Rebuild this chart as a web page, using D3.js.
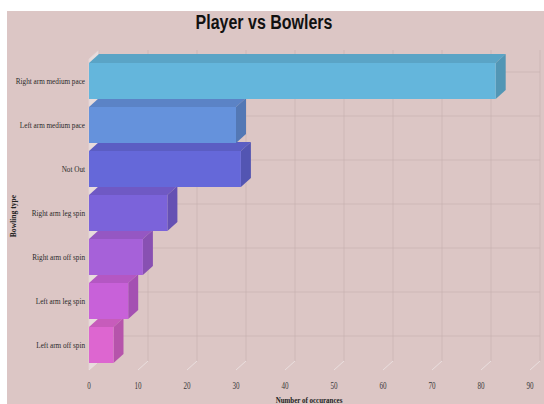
<!DOCTYPE html>
<html><head><meta charset="utf-8">
<script src="https://cdn.jsdelivr.net/npm/d3@7"></script>
<style>
html,body{margin:0;padding:0;background:#fff;}
svg{display:block;}
</style></head>
<body>
<svg id="c" width="544" height="404"></svg>
<script>
const categories = ["Right arm medium pace","Left arm medium pace","Not Out","Right arm leg spin","Right arm off spin","Left arm leg spin","Left arm off spin"];
const values = [83,30,31,16,11,8,5];
const xTicks = [0,10,20,30,40,50,60,70,80,90];
const frontColors = ["#64b6dc","#6592dc","#6568d9","#7b63da","#a661d9","#c861d9","#dd66d0"];
const title = "Player vs Bowlers";
const xTitle = "Number of occurances";
const yTitle = "Bowling type";

const SERIF = "'Liberation Serif', 'Times New Roman', 'DejaVu Serif', serif";
const svg = d3.select("#c");
const DX = 10, DY = 9;
svg.append("rect").attr("x",7).attr("y",11).attr("width",537).attr("height",393).attr("fill","#dcc6c5");

const x = d3.scaleLinear().domain([0,90]).range([89,530]);
const y = d3.scaleBand().domain(categories).range([59,367]).paddingInner(8/44).paddingOuter(4/44);
const yTop = 59, yBot = 370;

// left wall
svg.append("polygon")
  .attr("points",[[x(0),yTop],[x(0)+DX,yTop-DY],[x(0)+DX,yBot-DY],[x(0),yBot]].map(p=>p.join(",")).join(" "))
  .attr("fill","#e8dcdc").attr("stroke","#e4d6d6").attr("stroke-width",0.8);

// back vertical grid
svg.append("g").selectAll("line").data(xTicks).join("line")
  .attr("x1",d=>x(d)+DX).attr("x2",d=>x(d)+DX)
  .attr("y1",yTop-DY).attr("y2",yBot-DY)
  .attr("stroke","#c9b3b3").attr("stroke-width",0.7);
// back horizontal grid at category centers
svg.append("g").selectAll("line").data(categories).join("line")
  .attr("x1",x(0)+DX).attr("x2",x(90)+DX)
  .attr("y1",d=>y(d)+y.bandwidth()/2-DY).attr("y2",d=>y(d)+y.bandwidth()/2-DY)
  .attr("stroke","#c9b3b3").attr("stroke-width",0.7);
// floor diagonal ticks
svg.append("g").selectAll("line").data(xTicks).join("line")
  .attr("x1",d=>x(d)).attr("x2",d=>x(d)+DX)
  .attr("y1",yBot).attr("y2",yBot-DY)
  .attr("stroke","#ebe1e1").attr("stroke-width",0.9);

// bars, drawn bottom first
const data = categories.map((c,i)=>({c, v:values[i], col:frontColors[i]})).reverse();
const g = svg.append("g");
data.forEach(d=>{
  const x0 = x(0), x1 = x(d.v), y0 = y(d.c), h = y.bandwidth();
  const col = d3.color(d.col);
  const bg = g.append("g");
  bg.append("polygon")
    .attr("points",[[x0,y0],[x0+DX,y0-DY],[x1+DX,y0-DY],[x1,y0]].map(p=>p.join(",")).join(" "))
    .attr("fill",col.darker(0.3));
  bg.append("polygon")
    .attr("points",[[x1,y0],[x1+DX,y0-DY],[x1+DX,y0+h-DY],[x1,y0+h]].map(p=>p.join(",")).join(" "))
    .attr("fill",col.darker(0.55));
  bg.append("rect").attr("x",x0).attr("y",y0).attr("width",x1-x0).attr("height",h).attr("fill",col);
});

// y labels
svg.append("g").selectAll("text").data(categories).join("text")
  .attr("transform",d=>`translate(85,${y(d)+y.bandwidth()/2+3}) scale(0.8,1)`)
  .attr("text-anchor","end")
  .attr("font-family",SERIF).attr("font-size",9)
  .attr("fill","#2a2a2a").text(d=>d);

// x labels
svg.append("g").selectAll("text").data(xTicks).join("text")
  .attr("transform",d=>`translate(${x(d)},389) scale(0.75,1)`)
  .attr("text-anchor","middle")
  .attr("font-family",SERIF).attr("font-size",9.5)
  .attr("fill","#3a3a3a").text(d=>d);

svg.append("text").attr("transform","translate(264,29) scale(0.78,1)").attr("text-anchor","middle")
  .attr("font-family","'Liberation Sans', Arial, sans-serif")
  .attr("font-weight","bold").attr("font-size",20.5).attr("fill","#111").text(title);

svg.append("text").attr("transform","translate(309,403) scale(0.85,1)").attr("text-anchor","middle")
  .attr("font-family",SERIF).attr("font-weight","bold")
  .attr("font-size",8.2).attr("fill","#222").text(xTitle);

svg.append("text").attr("transform","translate(16,216) rotate(-90)").attr("text-anchor","middle")
  .attr("font-family",SERIF).attr("font-weight","bold")
  .attr("font-size",7.6).attr("fill","#222").text(yTitle);
</script>
</body></html>
